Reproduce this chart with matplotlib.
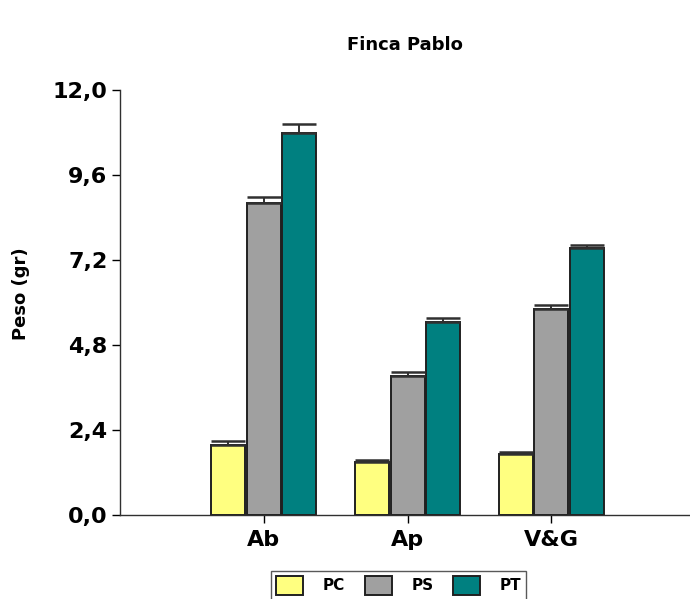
import numpy as np
import matplotlib.pyplot as plt
from matplotlib.ticker import FuncFormatter

plt.rcParams['font.family'] = ['DejaVu Sans']
plt.rcParams['font.weight'] = 'bold'

## Peso medio por zona y tipo de peso
zonas = ['Ab', 'Ap', 'V&G']
series = ['PC', 'PS', 'PT']
pc = [1.98, 1.50, 1.72]
ps = [8.81, 3.92, 5.82]
pt = [10.78, 5.45, 7.54]
pc_err = [0.11, 0.06, 0.06]
ps_err = [0.17, 0.11, 0.11]
pt_err = [0.25, 0.11, 0.08]

colores = ['#FFFF80', '#A0A0A0', '#008080']

fig = plt.figure(figsize=(6.9, 5.99), dpi=100)
ax = fig.add_axes([0.174, 0.140, 0.825, 0.710])

x = np.arange(len(zonas))
ancho = 0.236
paso = 0.247

for i, (vals, errs, col, nombre) in enumerate(zip([pc, ps, pt], [pc_err, ps_err, pt_err], colores, series)):
    pos = x + (i - 1) * paso
    ax.bar(pos, vals, width=ancho, color=col, edgecolor='#202020', linewidth=1.4, label=nombre, zorder=2)
    ax.errorbar(pos, vals, yerr=[np.zeros(len(errs)), errs], fmt='none', ecolor='#303030',
                elinewidth=1.4, capsize=12, capthick=1.8, zorder=3)

ax.set_xlim(-1.0, 2.96)
ax.set_ylim(0, 12.0)
ax.set_yticks(np.arange(0, 12.01, 2.4))
ax.yaxis.set_major_formatter(FuncFormatter(lambda v, p: f'{v:.1f}'.replace('.', ',')))
ax.set_xticks(x)
ax.set_xticklabels(zonas)

for s in ['top', 'right']:
    ax.spines[s].set_visible(False)
for s in ['left', 'bottom']:
    ax.spines[s].set_linewidth(1.0)
    ax.spines[s].set_color('#303030')

ax.tick_params(axis='y', direction='out', length=6, width=1, labelsize=16, pad=3)
ax.tick_params(axis='x', direction='out', length=6, width=1, labelsize=16, pad=5)
for lab in ax.get_xticklabels() + ax.get_yticklabels():
    lab.set_fontweight('bold')

ax.set_ylabel('Peso (gr)', fontsize=13, fontweight='bold')
ax.yaxis.set_label_coords(-0.158, 0.52)
ax.set_title('Finca Pablo', fontsize=13, fontweight='bold', pad=29)

leg = fig.legend(loc='lower center', bbox_to_anchor=(0.578, -0.014), ncol=3, fontsize=11,
                 frameon=True, fancybox=False, edgecolor='#303030', handlelength=1.75,
                 handleheight=1.6, handletextpad=1.3, columnspacing=1.3, borderpad=0.3)
leg.get_frame().set_linewidth(1.0)
for t in leg.get_texts():
    t.set_fontweight('bold')

fig.savefig('out.png', dpi=100)
